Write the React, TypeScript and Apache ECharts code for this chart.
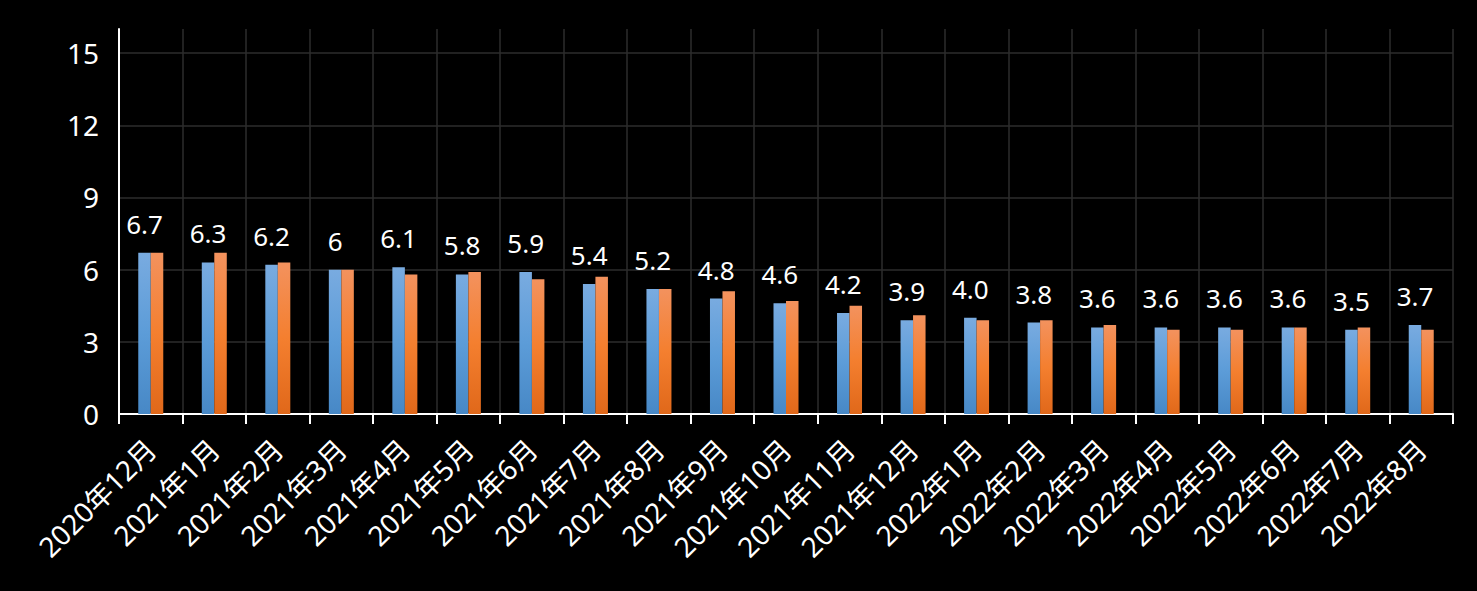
import React, { useEffect, useRef } from "react";
import * as echarts from "echarts";

const categories = [
  "2020年12月", "2021年1月", "2021年2月", "2021年3月", "2021年4月", "2021年5月",
  "2021年6月", "2021年7月", "2021年8月", "2021年9月", "2021年10月", "2021年11月",
  "2021年12月", "2022年1月", "2022年2月", "2022年3月", "2022年4月", "2022年5月",
  "2022年6月", "2022年7月", "2022年8月",
];

const seriesA = [6.7, 6.3, 6.2, 6.0, 6.1, 5.8, 5.9, 5.4, 5.2, 4.8, 4.6, 4.2, 3.9, 4.0, 3.8, 3.6, 3.6, 3.6, 3.6, 3.5, 3.7];
const seriesALabels = ["6.7", "6.3", "6.2", "6", "6.1", "5.8", "5.9", "5.4", "5.2", "4.8", "4.6", "4.2", "3.9", "4.0", "3.8", "3.6", "3.6", "3.6", "3.6", "3.5", "3.7"];
const seriesB = [6.7, 6.7, 6.3, 6.0, 5.8, 5.9, 5.6, 5.7, 5.2, 5.1, 4.7, 4.5, 4.1, 3.9, 3.9, 3.7, 3.5, 3.5, 3.6, 3.6, 3.5];

const yMin = 0;
const yMax = 16;
const yInterval = 3;

const FONT = "'Noto Sans', 'Noto Sans CJK SC', sans-serif";

export default function App() {
  const ref = useRef<HTMLDivElement>(null);
  useEffect(() => {
    if (!ref.current) return;
    const chart = echarts.init(ref.current, null, { renderer: "svg" });
    const blue = new echarts.graphic.LinearGradient(0, 0, 0, 1, [
      { offset: 0, color: "#79abe0" },
      { offset: 0.5, color: "#5c9cd8" },
      { offset: 1, color: "#4788c6" },
    ]);
    const orange = new echarts.graphic.LinearGradient(0, 0, 0, 1, [
      { offset: 0, color: "#f3925e" },
      { offset: 0.5, color: "#f47f2f" },
      { offset: 1, color: "#e0681a" },
    ]);
    chart.setOption({
      animation: false,
      backgroundColor: "#000000",
      textStyle: { fontFamily: FONT },
      grid: { left: 119, right: 24, top: 29, bottom: 177, containLabel: false },
      xAxis: {
        type: "category",
        data: categories,
        boundaryGap: true,
        axisLine: { show: true, lineStyle: { color: "#ffffff", width: 2 } },
        axisTick: { show: true, length: 10, lineStyle: { color: "#ffffff", width: 2 } },
        splitLine: { show: true, lineStyle: { color: "#2c2c2c", width: 1.5 } },
        axisLabel: {
          interval: 0,
          rotate: 45,
          color: "#ffffff",
          fontSize: 28,
          fontFamily: FONT,
          margin: 30,
        },
      },
      yAxis: {
        type: "value",
        min: yMin,
        max: yMax,
        interval: yInterval,
        axisLine: { show: true, lineStyle: { color: "#ffffff", width: 2 } },
        axisTick: { show: false },
        splitLine: { show: true, showMaxLine: false, lineStyle: { color: "#2c2c2c", width: 1.5 } },
        axisLabel: {
          color: "#ffffff",
          fontSize: 28,
          fontFamily: FONT,
          margin: 20,
          showMaxLabel: false,
        },
      },
      series: [
        {
          name: "系列1",
          type: "bar",
          data: seriesA,
          barWidth: 12.5,
          barGap: "0%",
          itemStyle: { color: blue },
          label: {
            show: true,
            position: "top",
            distance: 16,
            color: "#ffffff",
            fontSize: 26,
            fontFamily: FONT,
            formatter: (p: any) => seriesALabels[p.dataIndex],
          },
        },
        {
          name: "系列2",
          type: "bar",
          data: seriesB,
          barWidth: 12.5,
          barGap: "0%",
          itemStyle: { color: orange },
        },
      ],
    });
    return () => chart.dispose();
  }, []);
  return (
    <div
      ref={ref}
      style={{ position: "fixed", left: 0, top: 0, width: 1477, height: 591, background: "#000" }}
    />
  );
}
